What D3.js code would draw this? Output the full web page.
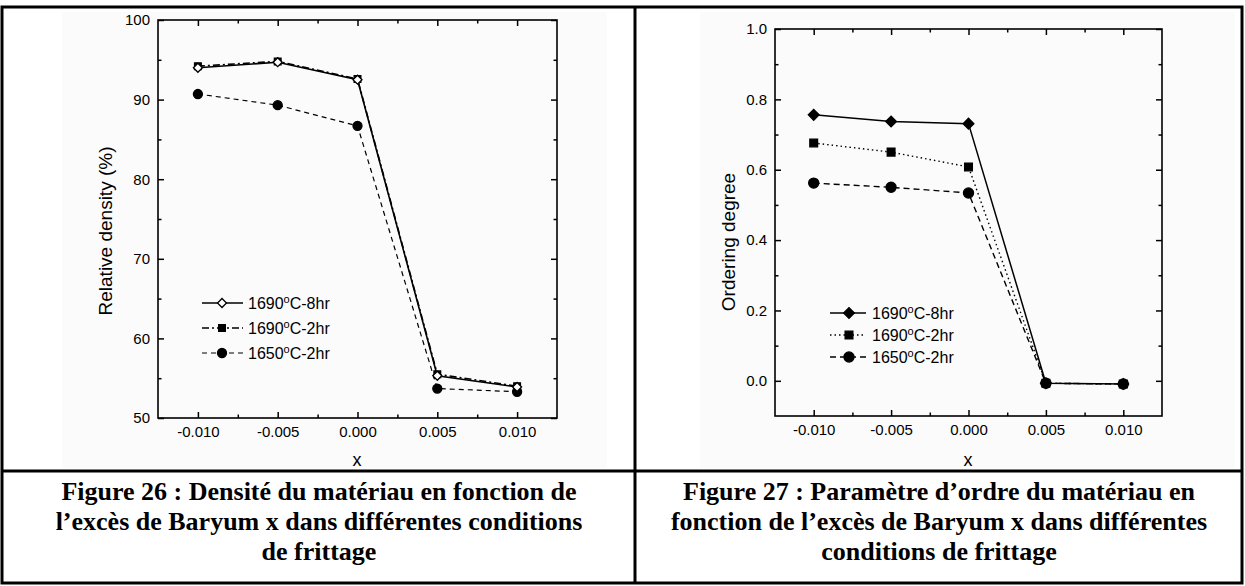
<!DOCTYPE html>
<html><head><meta charset="utf-8">
<script src="https://cdn.jsdelivr.net/npm/d3@7/dist/d3.min.js"></script>
<style>
html,body{margin:0;padding:0;background:#fff;}
svg{display:block;}
.tk text{font-family:"Liberation Sans",Arial,sans-serif;font-size:15px;fill:#000;}
</style></head>
<body>
<svg id="c" width="1245" height="586"></svg>
<script>
// ---------- data ----------
const xValues = [-0.010, -0.005, 0.000, 0.005, 0.010];
const xTickLabels = ["-0.010", "-0.005", "0.000", "0.005", "0.010"];
const xMinorTicks = [-0.0075, -0.0025, 0.0025, 0.0075];

const density8hr  = [94.0, 94.7, 92.5, 55.3, 53.9];
const density2hr  = [94.2, 94.8, 92.6, 55.5, 54.0];
const density1650 = [90.7, 89.3, 86.7, 53.7, 53.3];
const densityTicks = [50, 60, 70, 80, 90, 100];
const densityMinor = [55, 65, 75, 85, 95];

const order8hr  = [0.756, 0.737, 0.731, -0.007, -0.009];
const order2hr  = [0.676, 0.650, 0.608, -0.007, -0.009];
const order1650 = [0.562, 0.550, 0.534, -0.007, -0.009];
const orderTicks = [0.0, 0.2, 0.4, 0.6, 0.8, 1.0];
const orderTickLabels = ["0.0", "0.2", "0.4", "0.6", "0.8", "1.0"];
const orderMinor = [0.1, 0.3, 0.5, 0.7, 0.9];

const seriesTemps = ["1690", "1690", "1650"];
const seriesSuffix = ["C-8hr", "C-2hr", "C-2hr"];

const caption26 = ["Figure 26 : Densité du matériau en fonction de",
                   "l’excès de Baryum x dans différentes conditions",
                   "de frittage"];
const caption27 = ["Figure 27 : Paramètre d’ordre du matériau en",
                   "fonction de l’excès de Baryum x dans différentes",
                   "conditions de frittage"];

// ---------- drawing ----------
const svg = d3.select("#c");
const FONT = '"Liberation Sans", Arial, sans-serif';

// very faint scanned-image background areas
svg.append("rect").attr("x", 62).attr("y", 12).attr("width", 545).attr("height", 456).attr("fill", "#fbfbfb");
svg.append("rect").attr("x", 700).attr("y", 12).attr("width", 535).attr("height", 456).attr("fill", "#fbfbfb");

// table borders
const tb = svg.append("g").attr("stroke", "#000").attr("stroke-width", 3).attr("fill", "none");
tb.append("rect").attr("x", 2).attr("y", 7).attr("width", 1240).attr("height", 576);
tb.append("line").attr("x1", 635).attr("x2", 635).attr("y1", 7).attr("y2", 583);
tb.append("line").attr("x1", 2).attr("x2", 1242).attr("y1", 471).attr("y2", 471);

function sym(type, size) { return d3.symbol().type(type).size(size)(); }

function drawPanel(cfg) {
  const x = d3.scaleLinear().domain([-0.0125, 0.0125]).range(cfg.xr);
  const y = d3.scaleLinear().domain(cfg.yd).range(cfg.yr);
  const g = svg.append("g");

  g.append("rect").attr("x", cfg.xr[0]).attr("y", cfg.yr[1])
    .attr("width", cfg.xr[1] - cfg.xr[0]).attr("height", cfg.yr[0] - cfg.yr[1])
    .attr("fill", "none").attr("stroke", "#000").attr("stroke-width", 1.6);

  function ax(axisFn, scale, vals, size, fmt, tr, labels) {
    const a = axisFn(scale).tickValues(vals).tickSizeInner(size).tickSizeOuter(0).tickPadding(8);
    if (labels) a.tickFormat(fmt); else a.tickFormat("");
    const s = g.append("g").attr("class", "tk").attr("transform", tr).call(a);
    s.select(".domain").remove();
    s.selectAll("line").attr("stroke", "#000").attr("stroke-width", 1.5);
    return s;
  }
  const xf = d => xTickLabels[xValues.indexOf(d)];
  ax(d3.axisBottom, x, xValues, -6, xf, `translate(0,${cfg.yr[0]})`, true);
  ax(d3.axisBottom, x, xMinorTicks, -3.5, null, `translate(0,${cfg.yr[0]})`, false);
  ax(d3.axisTop, x, xValues, -6, null, `translate(0,${cfg.yr[1]})`, false);
  ax(d3.axisTop, x, xMinorTicks, -3.5, null, `translate(0,${cfg.yr[1]})`, false);
  ax(d3.axisLeft, y, cfg.yTicks, -6, cfg.yFmt, `translate(${cfg.xr[0]},0)`, true);
  ax(d3.axisLeft, y, cfg.yMinor, -3.5, null, `translate(${cfg.xr[0]},0)`, false);
  ax(d3.axisRight, y, cfg.yTicks, -6, null, `translate(${cfg.xr[1]},0)`, false);
  ax(d3.axisRight, y, cfg.yMinor, -3.5, null, `translate(${cfg.xr[1]},0)`, false);

  g.append("text").attr("transform", `translate(${cfg.ylab[0]},${cfg.ylab[1]}) rotate(-90)`)
    .attr("text-anchor", "middle").attr("dominant-baseline", "middle")
    .attr("font-family", FONT).attr("font-size", 19).text(cfg.ytitle);
  g.append("text").attr("x", cfg.xlab[0]).attr("y", cfg.xlab[1])
    .attr("text-anchor", "middle").attr("dominant-baseline", "middle")
    .attr("font-family", FONT).attr("font-size", 18).text("x");

  const line = d3.line().x((d, i) => x(xValues[i])).y(d => y(d));
  cfg.series.forEach(s => {
    g.append("path").attr("d", line(s.values)).attr("fill", "none")
      .attr("stroke", "#000").attr("stroke-width", s.sw)
      .attr("stroke-dasharray", s.dash);
    g.selectAll(null).data(s.values).enter().append("path")
      .attr("d", sym(s.sym, s.size))
      .attr("transform", (d, i) => `translate(${x(xValues[i])},${y(d)}) rotate(${s.rot})`)
      .attr("fill", s.fill).attr("stroke", "#000").attr("stroke-width", 1.3);
  });

  const L = cfg.legend;
  cfg.legendOrder.forEach((si, r) => {
    const s = cfg.series[si];
    const yy = L.rows[r];
    g.append("line").attr("x1", L.x1).attr("x2", L.x2).attr("y1", yy).attr("y2", yy)
      .attr("stroke", "#000").attr("stroke-width", s.sw).attr("stroke-dasharray", s.dash);
    g.append("path").attr("d", sym(s.sym, s.size))
      .attr("transform", `translate(${L.mx},${yy}) rotate(${s.rot})`)
      .attr("fill", s.fill).attr("stroke", "#000").attr("stroke-width", 1.3);
    const t = g.append("text").attr("x", L.tx).attr("y", yy + 6)
      .attr("font-family", FONT).attr("font-size", 16);
    t.append("tspan").text(seriesTemps[s.idx]);
    t.append("tspan").attr("dy", -6).attr("font-size", 11).text("o");
    t.append("tspan").attr("dy", 6).text(seriesSuffix[s.idx]);
  });
}

drawPanel({
  xr: [158, 557], yr: [418, 20], yd: [50, 100],
  yTicks: densityTicks, yMinor: densityMinor, yFmt: d => String(d),
  ytitle: "Relative density (%)", ylab: [107, 231], xlab: [357, 461],
  series: [
    {idx: 1, values: density2hr, sym: d3.symbolSquare, size: 45, rot: 0, fill: "#000", sw: 1.6, dash: "7,3,2,3"},
    {idx: 2, values: density1650, sym: d3.symbolCircle, size: 64, rot: 0, fill: "#000", sw: 1.2, dash: "5,4"},
    {idx: 0, values: density8hr, sym: d3.symbolSquare, size: 40, rot: 45, fill: "#fff", sw: 1.6, dash: null}
  ],
  legendOrder: [2, 0, 1],
  legend: {x1: 202, x2: 243, mx: 222, tx: 248, rows: [303, 328, 353]}
});

drawPanel({
  xr: [775, 1162], yr: [416, 29], yd: [-0.1, 1.0],
  yTicks: orderTicks, yMinor: orderMinor, yFmt: d => orderTickLabels[orderTicks.indexOf(d)],
  ytitle: "Ordering degree", ylab: [730, 242], xlab: [968, 461],
  series: [
    {idx: 2, values: order1650, sym: d3.symbolCircle, size: 80, rot: 0, fill: "#000", sw: 1.4, dash: "6,4"},
    {idx: 1, values: order2hr, sym: d3.symbolSquare, size: 60, rot: 0, fill: "#000", sw: 1.4, dash: "1.5,3"},
    {idx: 0, values: order8hr, sym: d3.symbolSquare, size: 58, rot: 45, fill: "#000", sw: 1.5, dash: null}
  ],
  legendOrder: [2, 1, 0],
  legend: {x1: 830, x2: 866, mx: 849, tx: 872, rows: [313, 335, 357]}
});

function caption(lines, cx) {
  const t = svg.append("g");
  lines.forEach((l, i) => {
    t.append("text").attr("x", cx).attr("y", 500 + i * 30)
      .attr("text-anchor", "middle")
      .attr("font-family", '"Liberation Serif","Times New Roman",serif')
      .attr("font-weight", "bold").attr("font-size", 26).text(l);
  });
}
caption(caption26, 319);
caption(caption27, 939);
</script>
</body></html>
